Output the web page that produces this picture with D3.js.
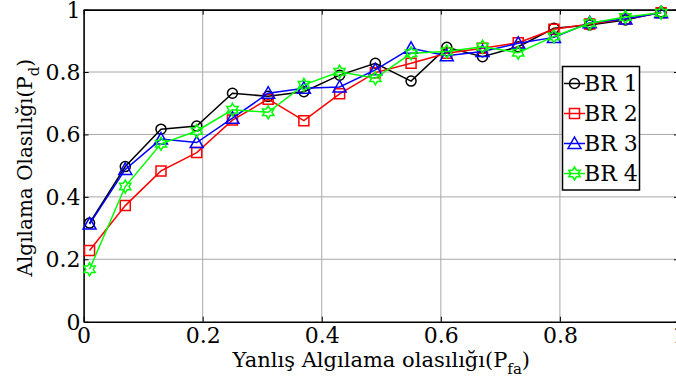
<!DOCTYPE html>
<html><head><meta charset="utf-8">
<script src="https://cdn.jsdelivr.net/npm/d3@7"></script>
<style>html,body{margin:0;padding:0;background:#fff;}svg{display:block;} text{font-family:"DejaVu Serif",serif !important;}</style>
</head><body>
<svg id="c" width="676" height="383"></svg>
<script>
const xValues = [0.01,0.07,0.13,0.19,0.25,0.31,0.37,0.43,0.49,0.55,0.61,0.67,0.73,0.79,0.85,0.91,0.97];
const br1 = [0.316,0.497,0.617,0.627,0.732,0.722,0.737,0.790,0.828,0.771,0.879,0.849,0.881,0.940,0.951,0.967,0.992];
const br2 = [0.228,0.372,0.483,0.542,0.646,0.713,0.644,0.730,0.798,0.828,0.860,0.876,0.894,0.937,0.954,0.970,0.990];
const br3 = [0.313,0.488,0.585,0.574,0.652,0.732,0.748,0.752,0.807,0.876,0.852,0.866,0.892,0.911,0.958,0.970,0.990];
const br4 = [0.168,0.433,0.570,0.611,0.679,0.671,0.759,0.801,0.780,0.860,0.866,0.881,0.862,0.914,0.956,0.976,0.990];
const seriesNames = ["BR 1","BR 2","BR 3","BR 4"];
const seriesColors = ["#000000","#ff0000","#0000ff","#00ff00"];
const seriesMarkers = ["circle","square","triangle","hexagram"];
const tickValues = [0,0.2,0.4,0.6,0.8,1];
const tickLabels = ["0","0.2","0.4","0.6","0.8","1"];

const allSeries = [br1,br2,br3,br4];
const svg = d3.select("#c");
const L=83.6, R=679, T=9.6, B=321.7;
const x = d3.scaleLinear().domain([0,1]).range([L,R]);
const y = d3.scaleLinear().domain([0,1]).range([B,T]);

const g = svg.append("g");
g.selectAll(".gx").data(tickValues.slice(1,-1)).enter().append("line")
  .attr("x1",d=>x(d)).attr("x2",d=>x(d)).attr("y1",T).attr("y2",B)
  .attr("stroke","#a8a8a8").attr("stroke-width",1);
g.selectAll(".gy").data(tickValues.slice(1,-1)).enter().append("line")
  .attr("y1",d=>y(d)).attr("y2",d=>y(d)).attr("x1",L).attr("x2",R)
  .attr("stroke","#a8a8a8").attr("stroke-width",1);

const fmt = d => tickLabels[tickValues.indexOf(d)];
const xAxis = svg.append("g").attr("transform",`translate(0,${B})`)
  .call(d3.axisBottom(x).tickValues(tickValues).tickFormat(fmt).tickSizeInner(-5).tickSizeOuter(0).tickPadding(6));
const yAxis = svg.append("g").attr("transform",`translate(${L},0)`)
  .call(d3.axisLeft(y).tickValues(tickValues).tickFormat(fmt).tickSizeInner(-5).tickSizeOuter(0).tickPadding(3));
svg.append("g").attr("transform",`translate(0,${T})`)
  .call(d3.axisTop(x).tickValues(tickValues).tickFormat("").tickSizeInner(-5).tickSizeOuter(0));
svg.append("g").attr("transform",`translate(${R},0)`)
  .call(d3.axisRight(y).tickValues(tickValues).tickFormat("").tickSizeInner(-5).tickSizeOuter(0));
svg.selectAll(".domain").attr("stroke","#000").attr("stroke-width",1.6);
svg.selectAll(".tick line").attr("stroke","#000").attr("stroke-width",1);
svg.selectAll(".tick text").attr("font-size",22).attr("fill","#000");
xAxis.selectAll(".tick text").attr("dy","0.71em");
yAxis.selectAll(".tick text").attr("dy","0.34em");

function markerPath(type){
  if(type==="circle") return d3.symbol().type(d3.symbolCircle).size(Math.PI*5*5)();
  if(type==="square") return "M-5,-5L5,-5L5,5L-5,5Z";
  if(type==="triangle") return "M0,-6.5L6.5,5L-6.5,5Z";
  const r=6.5, pts=[];
  for(let i=0;i<12;i++){const a=-Math.PI/2+i*Math.PI/6; const rr=(i%2===0)?r:r*0.577; pts.push([rr*Math.cos(a),rr*Math.sin(a)]);}
  return "M"+pts.map(p=>p[0].toFixed(2)+","+p[1].toFixed(2)).join("L")+"Z";
}

const line = d3.line().x((d,i)=>x(xValues[i])).y(d=>y(d));
allSeries.forEach((s,k)=>{
  const sg = svg.append("g");
  sg.append("path").datum(s).attr("d",line).attr("fill","none")
    .attr("stroke",seriesColors[k]).attr("stroke-width",1.5);
  sg.selectAll("path.m").data(s).enter().append("path").attr("class","m")
    .attr("transform",(d,i)=>`translate(${x(xValues[i])},${y(d)})`)
    .attr("d",markerPath(seriesMarkers[k])).attr("fill","none")
    .attr("stroke",seriesColors[k]).attr("stroke-width",1.5);
});

const lg = svg.append("g");
lg.append("rect").attr("x",562.5).attr("y",66.5).attr("width",77).attr("height",123.5)
  .attr("fill","#fff").attr("stroke","#000").attr("stroke-width",1.5);
seriesNames.forEach((n,k)=>{
  const cy = 83.5 + k*30;
  lg.append("line").attr("x1",564).attr("x2",585).attr("y1",cy).attr("y2",cy)
    .attr("stroke",seriesColors[k]).attr("stroke-width",1.5);
  lg.append("path").attr("transform",`translate(574.5,${cy})`).attr("d",markerPath(seriesMarkers[k]))
    .attr("fill","none").attr("stroke",seriesColors[k]).attr("stroke-width",1.5);
  lg.append("text").attr("x",584).attr("y",cy).attr("dy","0.34em")
    .attr("font-size",22).attr("fill","#000").text(n);
});

const xt = svg.append("text").attr("x",(L+R)/2).attr("y",367).attr("text-anchor","middle")
  .attr("font-size",21).attr("fill","#000");
xt.append("tspan").text("Yanlış Algılama olasılığı(P");
xt.append("tspan").attr("font-size",15).attr("dy",7).text("fa");
xt.append("tspan").attr("dy",-7).text(")");

const yt = svg.append("text").attr("transform",`translate(32,${(T+B)/2+2}) rotate(-90)`).attr("text-anchor","middle")
  .attr("font-size",20).attr("fill","#000");
yt.append("tspan").text("Algılama Olasılığı(P");
yt.append("tspan").attr("font-size",15).attr("dy",7).text("d");
yt.append("tspan").attr("dy",-7).text(")");
</script>
</body></html>
